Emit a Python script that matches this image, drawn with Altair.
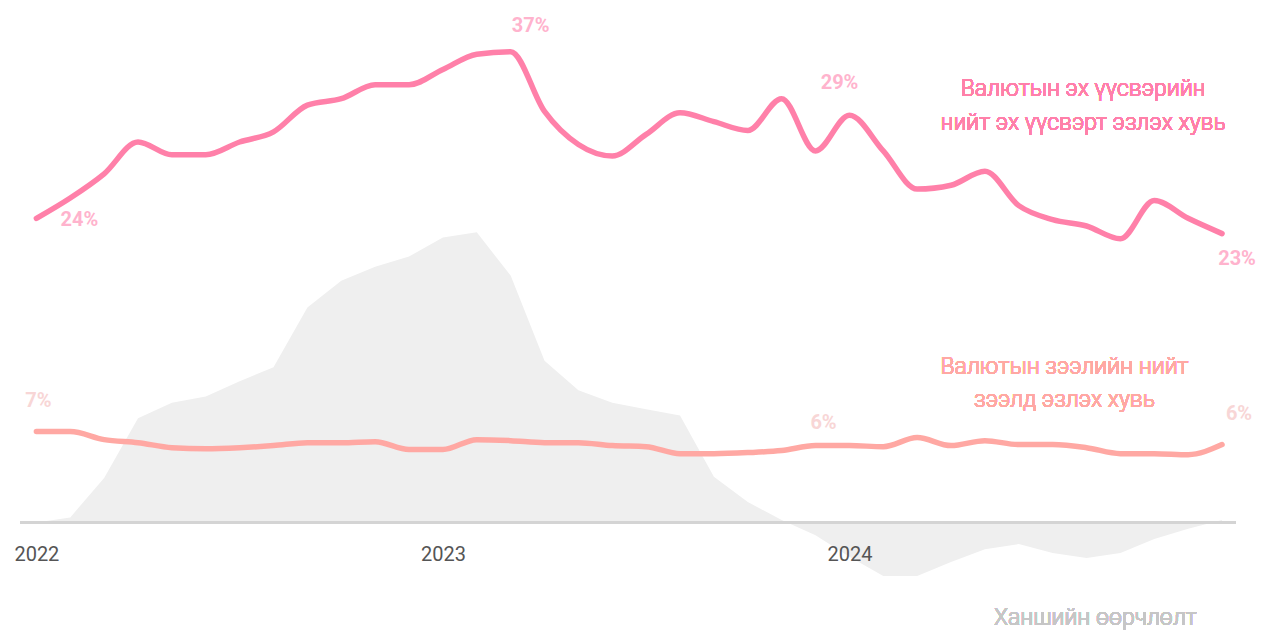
import altair as alt
import pandas as pd

months = [
    "2022-01", "2022-02", "2022-03", "2022-04", "2022-05", "2022-06",
    "2022-07", "2022-08", "2022-09", "2022-10", "2022-11", "2022-12",
    "2023-01", "2023-02", "2023-03", "2023-04", "2023-05", "2023-06",
    "2023-07", "2023-08", "2023-09", "2023-10", "2023-11", "2023-12",
    "2024-01", "2024-02", "2024-03", "2024-04", "2024-05", "2024-06",
    "2024-07", "2024-08", "2024-09", "2024-10", "2024-11", "2024-12",
]
# FX deposits share of total deposits, %
fx_deposit_share = [
    23.9, 25.5, 27.4, 29.9, 28.9, 28.9, 29.9, 30.7, 32.8, 33.3, 34.4, 34.4,
    35.6, 36.8, 37.0, 32.3, 29.7, 28.8, 30.5, 32.2, 31.5, 30.8, 33.3, 29.2,
    32.0, 29.2, 26.2, 26.5, 27.6, 24.9, 23.8, 23.3, 22.3, 25.3, 23.9, 22.7,
]
# FX loans share of total loans, %
fx_loan_share = [
    7.14, 7.14, 6.51, 6.27, 5.88, 5.80, 5.88, 6.04, 6.27, 6.27, 6.35, 5.73,
    5.73, 6.51, 6.43, 6.27, 6.27, 6.04, 5.96, 5.41, 5.41, 5.49, 5.65, 6.04,
    6.04, 5.96, 6.67, 6.04, 6.43, 6.12, 6.12, 5.88, 5.41, 5.41, 5.33, 6.12,
]
# exchange rate change, %
fx_rate_change = [
    0.0, 0.4, 3.5, 8.2, 9.4, 9.9, 11.1, 12.2, 16.9, 19.0, 20.1, 20.9,
    22.4, 22.8, 19.4, 12.7, 10.4, 9.4, 8.9, 8.4, 3.6, 1.6, 0.2, -1.0,
    -2.7, -4.2, -4.2, -3.1, -2.1, -1.7, -2.4, -2.8, -2.4, -1.3, -0.5, 0.2,
]
years = ["2022", "2023", "2024"]

deposit_title = ["Валютын эх үүсвэрийн", "нийт эх үүсвэрт эзлэх хувь"]
loan_title = ["Валютын зээлийн нийт", "зээлд эзлэх хувь"]
rate_title = "Ханшийн өөрчлөлт"

df = pd.DataFrame({
    "month": months,
    "idx": list(range(len(months))),
    "dep": fx_deposit_share,
    "loan": fx_loan_share,
    "rate": fx_rate_change,
})

FONT = "Roboto, 'Noto Sans', Inter, sans-serif"
PINK = "#ff80a9"
SALMON = "#ffa8a3"

xscale = alt.Scale(domain=[-0.838, 36.003], nice=False, zero=False)
yscale = alt.Scale(domain=[-8.45, 40.43], nice=False, zero=False)

label_expr = "[" + ",".join(f"'{y}'" for y in years) + "][floor(datum.value / 12)]"

base = alt.Chart(df)

area = base.mark_area(color="#efefef", interpolate="linear").encode(
    x=alt.X("idx:Q", scale=xscale,
            axis=alt.Axis(values=[0, 12, 24], labelExpr=label_expr, grid=False,
                          domain=False, ticks=False, labelFontSize=20,
                          labelColor="#555555", labelFont=FONT, offset=-86,
                          labelPadding=0, title=None, labelFlush=False,
                          zindex=1)),
    y=alt.Y("rate:Q", scale=yscale, axis=None),
    y2=alt.datum(0),
)

baseline = alt.Chart(df).mark_rule(color="#d4d4d4", strokeWidth=2).encode(
    x=alt.datum(-0.48), x2=alt.datum(35.41), y=alt.datum(0)
)

dep_line = base.mark_line(color=PINK, strokeWidth=5.5, interpolate="monotone",
                          strokeCap="round").encode(x="idx:Q", y="dep:Q")
loan_line = base.mark_line(color=SALMON, strokeWidth=5.5, interpolate="monotone",
                           strokeCap="round").encode(x="idx:Q", y="loan:Q")


def point_label(field, i, color, dx, dy):
    return (
        alt.Chart(df.iloc[[i]])
        .transform_calculate(lab=f"format(datum.{field}, '.0f') + '%'")
        .mark_text(font=FONT, fontWeight="bold", fontSize=20, color=color,
                   dx=dx, dy=dy)
        .encode(x="idx:Q", y=f"{field}:Q", text="lab:N")
    )


labels = [
    point_label("dep", 0, "#ffb3cd", 43, 2),
    point_label("dep", 14, "#ffb3cd", 20, -26),
    point_label("dep", 23, "#ffb3cd", 24, -68),
    point_label("dep", 35, "#ffb3cd", 15, 25),
    point_label("loan", 0, "#f8d6d6", 2, -31),
    point_label("loan", 23, "#f8d6d6", 8, -23),
    point_label("loan", 35, "#f8d6d6", 17, -31),
]

dep_text = alt.Chart(df).mark_text(
    font=FONT, fontWeight=300, fontSize=23, color=PINK, lineHeight=34,
    baseline="middle"
).encode(x=alt.datum(30.9), y=alt.datum(34.07), text=alt.value(deposit_title))

loan_text = alt.Chart(df).mark_text(
    font=FONT, fontWeight=300, fontSize=23, color=SALMON, lineHeight=33,
    baseline="middle"
).encode(x=alt.datum(30.35), y=alt.datum(12.22), text=alt.value(loan_title))

rate_text = alt.Chart(df).mark_text(
    font=FONT, fontWeight=300, fontSize=23, color="#c6c6c6",
    baseline="middle"
).encode(x=alt.datum(31.26), y=alt.datum(-7.5), text=alt.value(rate_title))

chart = alt.layer(area, baseline, loan_line, dep_line, *labels,
                  dep_text, loan_text, rate_text).properties(
    width=1248, height=622,
    autosize=alt.AutoSizeParams(type="none"),
    padding={"left": 0, "top": 0, "right": 0, "bottom": 0},
).configure_view(stroke=None)

chart.save("out.html", embed_options={"renderer": "svg", "actions": False})
